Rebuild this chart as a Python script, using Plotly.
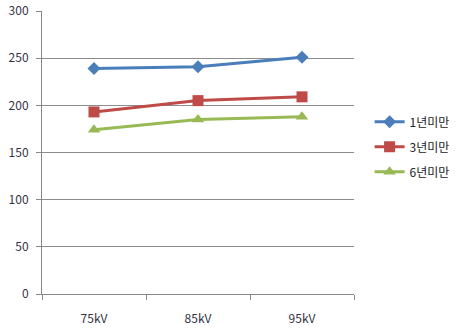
import plotly.graph_objects as go

categories = ["75kV", "85kV", "95kV"]
series_names = ["1년미만", "3년미만", "6년미만"]
values_1y = [239, 241, 251]
values_3y = [193, 205, 209]
values_6y = [174, 185, 188]

colors = ["#4a7ebb", "#be4b48", "#98b954"]
symbols = ["diamond", "square", "triangle-up"]
sizes = [10, 11, 11]

fig = go.Figure()
for i, (name, vals, col, sym, sz) in enumerate(zip(series_names, [values_1y, values_3y, values_6y], colors, symbols, sizes)):
    fig.add_trace(go.Scatter(
        x=categories, y=vals, name=name, mode="lines+markers",
        legendgroup=f"g{i}",
        line=dict(color=col, width=3),
        marker=dict(symbol=sym, size=sz, color=col),
    ))

font_family = "Noto Sans CJK KR, DejaVu Sans, sans-serif"
fig.update_layout(
    width=456, height=328,
    margin=dict(l=42, r=102, t=11, b=34, autoexpand=False),
    paper_bgcolor="white", plot_bgcolor="white",
    font=dict(family=font_family, size=12, color="#333344"),
    showlegend=True,
    legend=dict(x=1.05, y=0.52, xanchor="left", yanchor="middle",
                font=dict(size=12, color="#222222"),
                itemwidth=30, tracegroupgap=6, bgcolor="rgba(0,0,0,0)"),
    xaxis=dict(
        type="category", showline=True, linecolor="#888888", linewidth=1,
        ticks="outside", tickson="boundaries", ticklen=5, tickcolor="#888888",
        showgrid=False, ticklabelstandoff=14, range=[-0.5, 2.5], automargin=False,
    ),
    yaxis=dict(
        range=[0, 300], dtick=50, showline=True, linecolor="#888888", linewidth=1,
        ticks="outside", ticklen=5, tickcolor="#888888",
        showgrid=True, gridcolor="#8c8c8c", gridwidth=1, zeroline=False,
        ticklabelstandoff=5, automargin=False,
    ),
)

fig.write_html("out.html")
